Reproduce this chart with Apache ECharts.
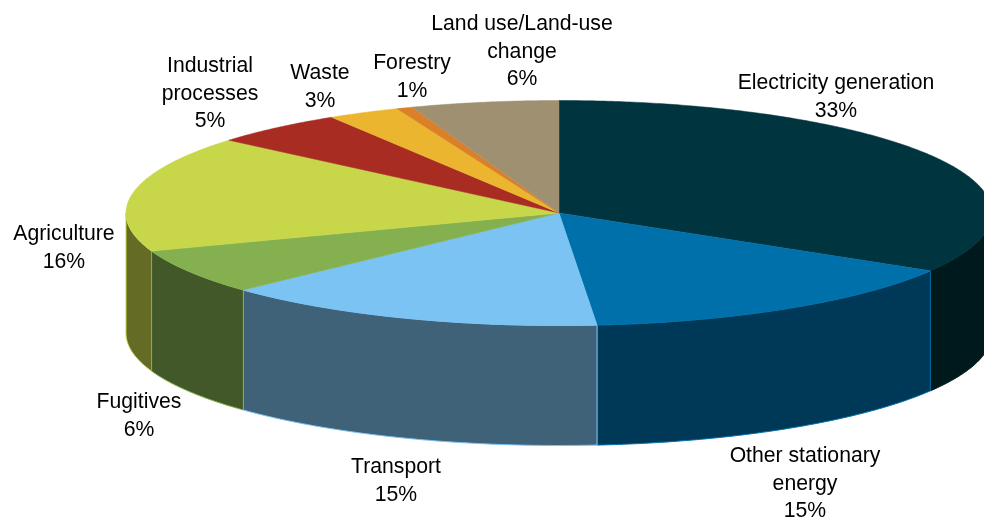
<!DOCTYPE html>
<html>
<head>
<meta charset="utf-8">
<style>
html, body { margin: 0; padding: 0; background: #fff; }
#main { width: 984px; height: 520px; }
</style>
<script src="https://cdn.jsdelivr.net/npm/echarts@6/dist/echarts.min.js"></script>
</head>
<body>
<div id="main"></div>
<script>
var sliceNames = ['Electricity generation', 'Other stationary\nenergy', 'Transport', 'Fugitives', 'Agriculture',
    'Industrial\nprocesses', 'Waste', 'Forestry', 'Land use/Land-use\nchange'];
var sliceValues = [33.6, 15, 14.4, 6.5, 16.7, 5, 2.7, 0.6, 5.5];
var percentLabels = [33, 15, 15, 6, 16, 5, 3, 1, 6];

var topColors = ['#00343f', '#0070ab', '#7ac3f2', '#84b050', '#c8d64a', '#a82c22', '#ecb52f', '#d98028', '#a09072'];
var wallColors = ['#00191c', '#003858', '#3f6279', '#425828', '#646b25', '#541610', '#765a17', '#6c4014', '#504839'];
var wallOrder = [0, 1, 3, 4, 2, 0, 0, 0, 0];

// layout of the tilted disc, in px
var cx = 559, cy = 213, rx = 433, ry = 112.5, depth = 120;
var labelCenters = [[836, 97], [805, 484], [396, 481], [139, 416], [64, 248], [210, 94], [320, 87], [412, 77], [522, 52]];

var total = sliceValues.reduce(function (a, b) { return a + b; }, 0);

function ellipsePoint(deg, drop) {
    var r = deg * Math.PI / 180;
    return [cx + rx * Math.sin(r), cy - ry * Math.cos(r) + (drop || 0)];
}

function arcPoints(from, to, drop) {
    var pts = [];
    var n = Math.max(2, Math.ceil((to - from) * 2));
    for (var i = 0; i <= n; i++) {
        pts.push(ellipsePoint(from + (to - from) * i / n, drop));
    }
    return pts;
}

function renderSlice(params, api) {
    var i = params.dataIndex;
    var before = 0;
    for (var k = 0; k < i; k++) before += sliceValues[k];
    var start = before / total * 360;
    var end = start + api.value(0) / total * 360;
    var children = [];

    // only the front half of the disc shows a wall
    var wallFrom = Math.max(start, 90), wallTo = Math.min(end, 270);
    if (wallTo > wallFrom) {
        children.push({
            type: 'polygon',
            z2: 1 + wallOrder[i],
            shape: { points: arcPoints(wallFrom, wallTo, 0).concat(arcPoints(wallFrom, wallTo, depth).reverse()) },
            style: { fill: wallColors[i], stroke: i === 0 ? wallColors[i] : topColors[i], lineWidth: 1 }
        });
    }
    children.push({
        type: 'polygon',
        z2: 10,
        shape: { points: [[cx, cy]].concat(arcPoints(start, end, 0)) },
        style: { fill: topColors[i], stroke: topColors[i], lineWidth: 0.5 }
    });
    children.push({
        type: 'text',
        z2: 20,
        x: labelCenters[i][0],
        y: labelCenters[i][1],
        style: {
            text: sliceNames[i] + '\n' + percentLabels[i] + '%',
            fill: '#000',
            font: '21.2px "Liberation Sans", Arial, sans-serif',
            lineHeight: 27.5,
            align: 'center',
            verticalAlign: 'middle'
        }
    });
    return { type: 'group', children: children };
}

var myChart = echarts.init(document.getElementById('main'));
var option = {
    animation: false,
    backgroundColor: '#fff',
    series: [{
        type: 'custom',
        coordinateSystem: 'none',
        renderItem: renderSlice,
        data: sliceValues.map(function (v) { return [v]; })
    }]
};
myChart.setOption(option);
</script>
</body>
</html>
